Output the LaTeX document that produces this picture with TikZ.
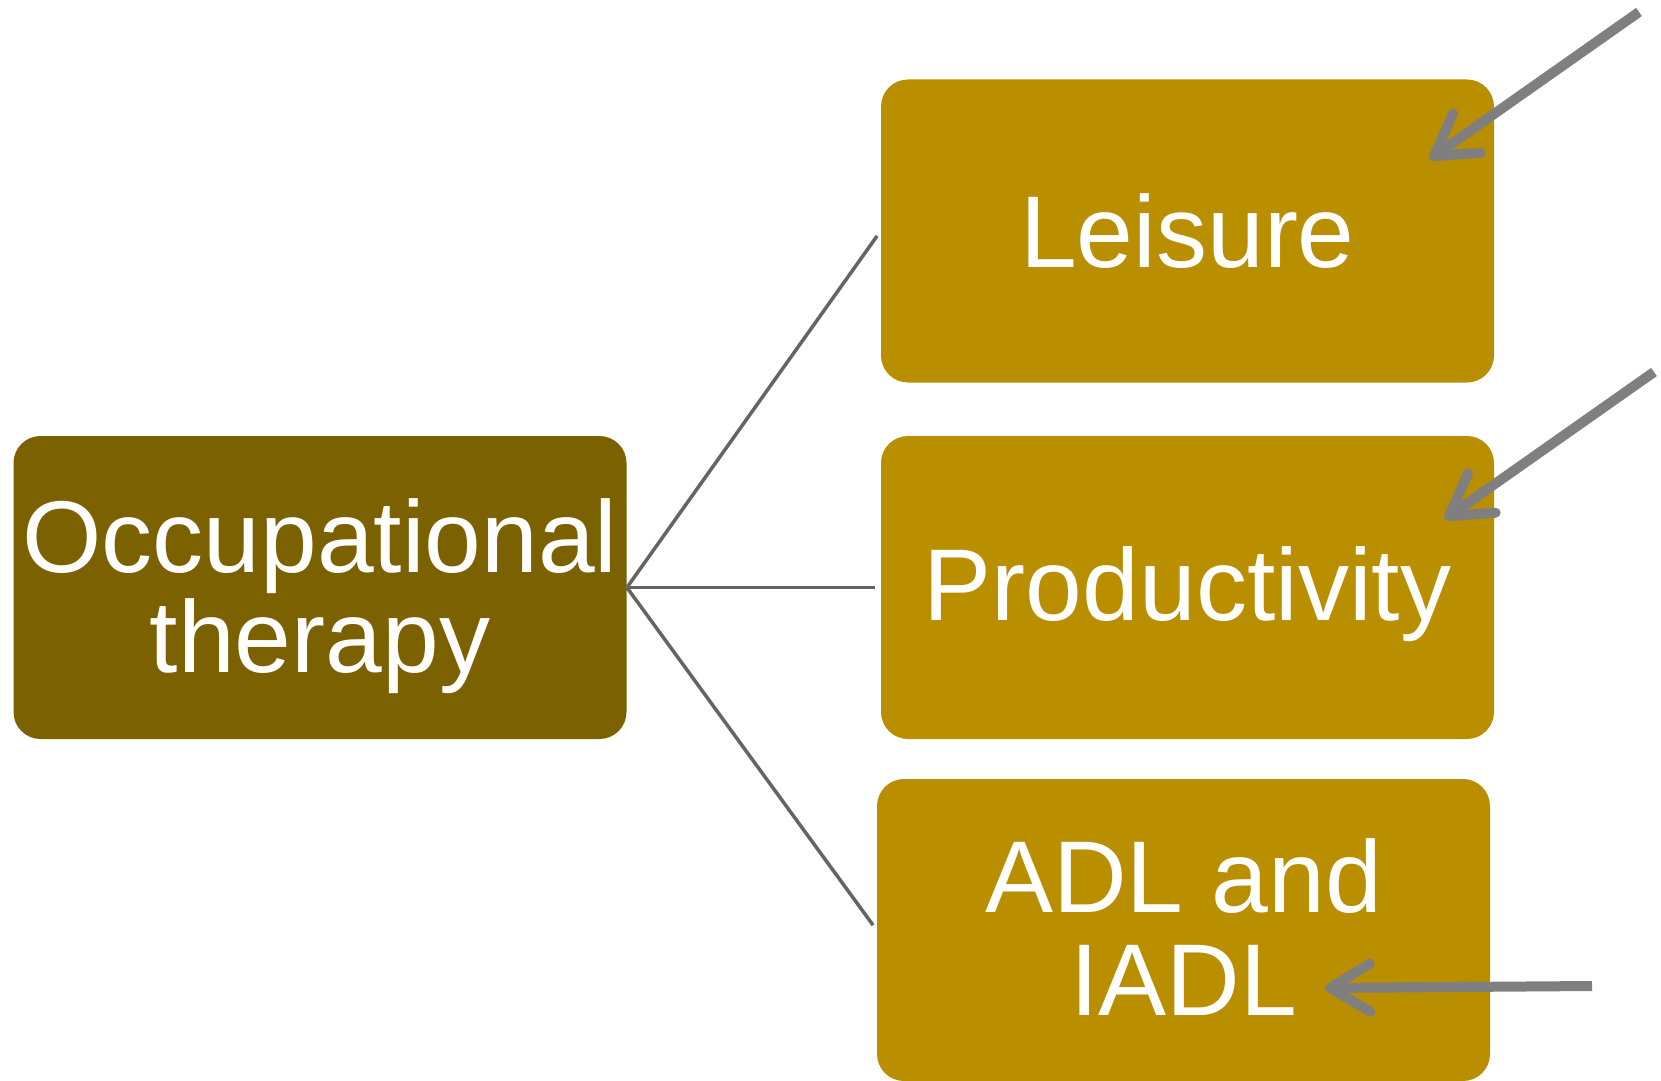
\documentclass[tikz,border=0pt]{standalone}
\usepackage{fontspec}
\setmainfont{Liberation Sans}
\usepackage{tikz}
\usetikzlibrary{arrows.meta}
\definecolor{otdark}{HTML}{7B6100}
\definecolor{otgold}{HTML}{B98F00}
\definecolor{linkgray}{HTML}{646464}
\definecolor{pointgray}{HTML}{7F7F7F}

\begin{document}
\begin{tikzpicture}[x=0.5pt, y=-0.5pt,
    box/.style={rounded corners=13.5pt, inner sep=0pt,
      minimum width=306.5pt, minimum height=151.5pt},
    label/.style={text=white, align=center, inner sep=0pt,
      font=\fontsize{51}{50}\selectfont},
    link/.style={draw=linkgray, line width=1.75pt, shorten >=3pt},
    pointer/.style={draw=pointgray, line width=5pt,
      -{Straight Barb[length=20pt, width=24pt, round]}}]
      \useasboundingbox (0,0) rectangle (1661,1081);
      \node[box, fill=otdark] (ot)   at (320,587.5)    {};
      \node[box, fill=otgold] (leis) at (1187.5,231)   {};
      \node[box, fill=otgold] (prod) at (1187.5,587.5) {};
      \node[box, fill=otgold, minimum height=151pt] (adl) at (1183.5,930) {};
      \node[label] (ottxt)   at (320,596)    {Occupational\\therapy};
      \node[label] (leistxt) at (1187.5,231) {Leisure};
      \node[label] (prodtxt) at (1187.5,594) {Productivity};
      \node[label, font=\fontsize{51}{51.5}\selectfont] (adltxt) at (1183.5,927) {ADL and\\IADL};
      \draw[link] (ot.east) -- (leis.west);
      \draw[link] (ot.east) -- (prod.west);
      \draw[link] (ot.east) -- (adl.west);
      \coordinate (p1) at (1639,12);  \coordinate (q1) at (1430,159);
      \coordinate (p2) at (1654,372); \coordinate (q2) at (1445,519);
      \coordinate (p3) at (1592,986); \coordinate (q3) at (1325,988);
      \draw[pointer] (p1) -- (q1);
      \draw[pointer] (p2) -- (q2);
      \draw[pointer] (p3) -- (q3);
    \end{tikzpicture}
\end{document}
